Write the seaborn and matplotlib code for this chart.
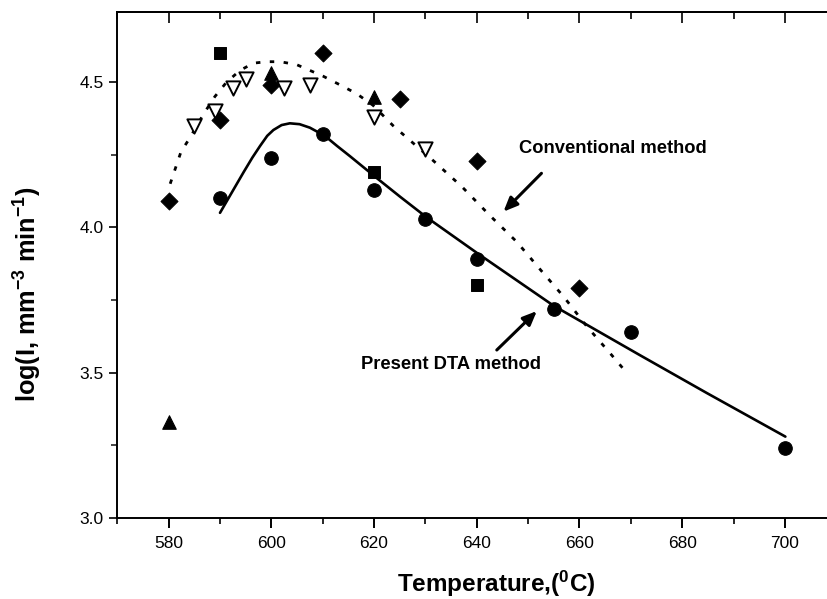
import numpy as np
import pandas as pd
import matplotlib
matplotlib.use("Agg")
import matplotlib.pyplot as plt
import seaborn as sns

# ---- data ----
diamond_x = [580, 590, 600, 610, 625, 640, 660]
diamond_y = [4.09, 4.37, 4.49, 4.60, 4.44, 4.23, 3.79]

circle_x = [590, 600, 610, 620, 630, 640, 655, 670, 700]
circle_y = [4.10, 4.24, 4.32, 4.13, 4.03, 3.89, 3.72, 3.64, 3.24]

square_x = [590, 620, 640]
square_y = [4.60, 4.19, 3.80]

tri_up_x = [580, 600, 620]
tri_up_y = [3.33, 4.53, 4.45]

tri_down_x = [585, 589, 592.5, 595, 602.5, 607.5, 620, 630]
tri_down_y = [4.35, 4.40, 4.48, 4.51, 4.48, 4.49, 4.38, 4.27]

# fitted curves (traced)
dta_x = [590, 592.3, 594.6, 596.3, 597.8, 599.2, 600.4, 602.0, 603.6, 605.5, 607.5, 610.4,
         612.8, 615.3, 620.5, 625.1, 630.2, 640.2, 655.0, 671.8, 684.8, 700.1]
dta_y = [4.05, 4.12, 4.19, 4.24, 4.28, 4.315, 4.335, 4.352, 4.358, 4.355, 4.343, 4.315,
         4.28, 4.245, 4.17, 4.105, 4.035, 3.91, 3.73, 3.56, 3.43, 3.28]

conv_x = [580.3, 582.4, 584.2, 586.8, 589.0, 591.3, 593.9, 596.5, 599.1, 601.7, 604.9,
          607.5, 610.1, 613.4, 616.6, 619.8, 623.7, 626.3, 631.5, 637.1, 642.6, 647.8,
          652.6, 657.0, 661.4, 666.3, 668.7]
conv_y = [4.15, 4.26, 4.31, 4.39, 4.45, 4.50, 4.54, 4.565, 4.57, 4.57, 4.56,
          4.54, 4.52, 4.49, 4.46, 4.42, 4.35, 4.31, 4.23, 4.14, 4.04, 3.95,
          3.85, 3.76, 3.66, 3.56, 3.51]

x_ticks = [580, 600, 620, 640, 660, 680, 700]
y_ticks = [3.0, 3.5, 4.0, 4.5]

sns.set_theme(style="ticks")
plt.rcParams['font.family'] = ['Liberation Sans', 'DejaVu Sans']
plt.rcParams['mathtext.fontset'] = 'custom'
plt.rcParams['mathtext.rm'] = 'Liberation Sans'
plt.rcParams['mathtext.bf'] = 'Liberation Sans:bold'
plt.rcParams['text.color'] = 'black'
plt.rcParams['axes.labelcolor'] = 'black'

fig = plt.figure(figsize=(8.28, 5.99), dpi=100)
ax = fig.add_axes([117.3 / 828, 1 - 518 / 599, 1 - 117.3 / 828, (518 - 12) / 599])

k = "black"
sns.lineplot(x=dta_x, y=dta_y, ax=ax, color=k, lw=1.9, sort=False, estimator=None)
sns.lineplot(x=conv_x, y=conv_y, ax=ax, color=k, lw=2.0, sort=False, estimator=None,
             linestyle=(0, (1.6, 3.4)))

sns.scatterplot(x=diamond_x, y=diamond_y, ax=ax, marker="D", s=75, color=k, edgecolor=k, zorder=3)
sns.scatterplot(x=circle_x, y=circle_y, ax=ax, marker="o", s=95, color=k, edgecolor=k, zorder=3)
sns.scatterplot(x=square_x, y=square_y, ax=ax, marker="s", s=75, color=k, edgecolor=k, zorder=3)
sns.scatterplot(x=tri_up_x, y=tri_up_y, ax=ax, marker="^", s=95, color=k, edgecolor=k, zorder=3)
sns.scatterplot(x=tri_down_x, y=tri_down_y, ax=ax, marker="v", s=105, facecolor="white",
                edgecolor=k, linewidth=1.4, zorder=3)

ax.set_xlim(570, 708.4)
ax.set_ylim(3.0, 4.741)
ax.set_xticks(x_ticks)
ax.set_xticks(np.arange(570, 710, 10), minor=True)
ax.set_yticks(y_ticks)
ax.set_yticks(np.arange(3.0, 4.75, 0.25), minor=True)
ax.set_xticklabels([str(v) for v in x_ticks])
ax.set_yticklabels([f"{v:.1f}" for v in y_ticks])

for s in ["left", "bottom", "top"]:
    ax.spines[s].set_linewidth(1.4)
    ax.spines[s].set_color(k)
ax.spines["right"].set_visible(False)

ax.tick_params(axis="x", which="major", direction="out", length=7, width=1.4, labelsize=12.5,
               colors=k, pad=6, top=False)
ax.tick_params(axis="x", which="minor", direction="out", length=4.5, width=1.4, top=False)
ax.tick_params(axis="y", which="major", direction="out", length=6, width=1.2, labelsize=12.5,
               colors=k, pad=4)
ax.tick_params(axis="y", which="minor", direction="out", length=4, width=1.2)

# top ticks pointing inward
sec = ax.secondary_xaxis("top")
sec.set_xticks(x_ticks)
sec.set_xticks(np.arange(570, 710, 10), minor=True)
sec.tick_params(axis="x", which="major", direction="in", length=8, width=1.4, labeltop=False)
sec.tick_params(axis="x", which="minor", direction="in", length=5, width=1.4)
sec.spines["top"].set_linewidth(1.4)

ax.set_xlabel("Temperature,($\\mathbf{^0}$C)", fontsize=17.5, fontweight="bold", color=k)
ax.xaxis.set_label_coords((496 - 117.3) / 710.7, (518 - 584) / 506)
ax.xaxis.label.set_va("center")
ax.set_ylabel("log(I, mm$\\mathbf{^{-3}}$ min$\\mathbf{^{-1}}$)", fontsize=18.2,
              fontweight="bold", color=k)
ax.yaxis.set_label_coords((28 - 117.3) / 710.7, (518 - 294) / 506)
ax.yaxis.label.set_va("center")

ax.text(666.5, 4.272, "Conventional method", fontsize=13.2, fontweight="bold",
        ha="center", va="center", color=k)
ax.text(634.9, 3.527, "Present DTA method", fontsize=13.2, fontweight="bold",
        ha="center", va="center", color=k)

ax.annotate("", xy=(645.2, 4.054), xytext=(652.6, 4.186),
            arrowprops=dict(arrowstyle="-|>,head_length=0.7,head_width=0.3", color=k, lw=2.2,
                            shrinkA=0, shrinkB=0))
ax.annotate("", xy=(651.7, 3.712), xytext=(643.9, 3.578),
            arrowprops=dict(arrowstyle="-|>,head_length=0.7,head_width=0.3", color=k, lw=2.2,
                            shrinkA=0, shrinkB=0))

fig.savefig("out.png", dpi=100)
